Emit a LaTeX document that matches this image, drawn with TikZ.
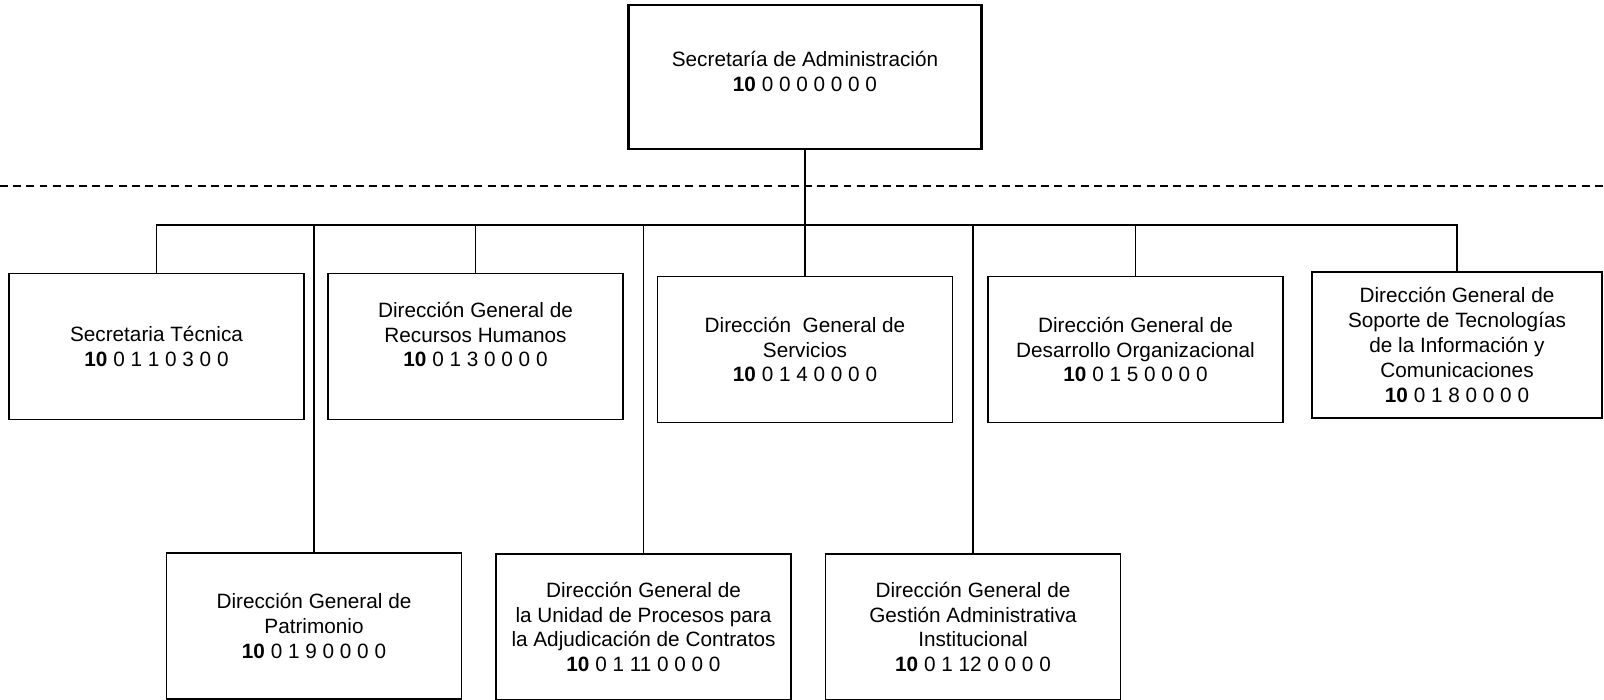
\documentclass[tikz,border=0pt]{standalone}
\usepackage{fontspec}
\setmainfont{Liberation Sans}
\newcommand{\clave}[1]{\textbf{10} #1}

\begin{document}
\begin{tikzpicture}[x=0.2mm, y=-0.2mm, line width=0.7pt,
    box/.style={draw, line width=0.8pt, minimum width=59mm, minimum height=29.2mm, inner sep=0pt},
    txt/.style={align=center, inner sep=0pt, font=\fontsize{11.8}{14.1}\selectfont}]
  \useasboundingbox (0,0) rectangle (1604,700);
  % titular
  \node[box, line width=1.2pt, minimum width=70.6mm, minimum height=28.8mm] (sa) at (805,77) {};
  \node[txt] (sa-t) at ([yshift=1.1mm]sa.center) {Secretaría de Administración\\\clave{0 0 0 0 0 0 0}};
  % primer nivel
  \node[box] (st) at (156.5,346.5) {};
  \node[box] (rh) at (475.5,346.5) {};
  \node[box] (ser) at (805,349.5) {};
  \node[box] (des) at (1135.5,349.5) {};
  \node[box, minimum width=58mm] (sop) at (1457,345) {};
  \node[txt] (st-t) at (st.center) {Secretaria Técnica\\\clave{0 1 1 0 3 0 0}};
  \node[txt] (rh-t) at ([yshift=2.4mm]rh.center) {Dirección General de\\Recursos Humanos\\\clave{0 1 3 0 0 0 0}};
  \node[txt] (ser-t) at (ser.center) {Dirección\ \ General de\\Servicios\\\clave{0 1 4 0 0 0 0}};
  \node[txt] (des-t) at (des.center) {Dirección General de\\Desarrollo Organizacional\\\clave{0 1 5 0 0 0 0}};
  \node[txt] (sop-t) at (sop.center) {Dirección General de\\Soporte de Tecnologías\\de la Información y\\Comunicaciones\\\clave{0 1 8 0 0 0 0}};
  % segundo nivel
  \node[box] (pat) at (314,626) {};
  \node[box] (uni) at (643.5,627) {};
  \node[box] (ges) at (973,627) {};
  \node[txt] (pat-t) at (pat.center) {Dirección General de\\Patrimonio\\\clave{0 1 9 0 0 0 0}};
  \node[txt] (uni-t) at (uni.center) {Dirección General de\\la Unidad de Procesos para\\la Adjudicación de Contratos\\\clave{0 1 11 0 0 0 0}};
  \node[txt] (ges-t) at (ges.center) {Dirección General de\\Gestión Administrativa\\Institucional\\\clave{0 1 12 0 0 0 0}};
  % lineas
  \coordinate (bus) at (805,225);
  \coordinate (dl) at (0,186);
  \coordinate (dr) at (1604,186);
  \draw[dash pattern=on 4.5pt off 3pt] (dl) -- (dr);
  \draw (sa.south) -- (bus);
  \foreach \n in {st,pat,rh,uni,ser,ges,des,sop}
    \draw (bus) -| (\n.north);
\end{tikzpicture}
\end{document}
